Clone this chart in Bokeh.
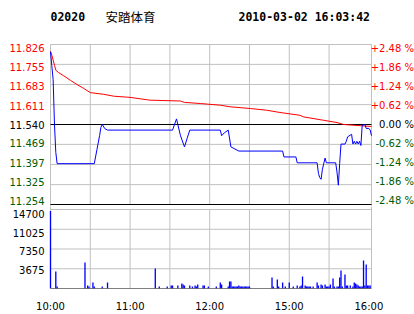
from bokeh.plotting import figure
from bokeh.models import FixedTicker, LinearAxis, Range1d
from bokeh.core.properties import value
from bokeh.layouts import column
from bokeh.embed import file_html
from bokeh.resources import INLINE

# ---------------- data ----------------
stock_code = "02020"
stock_name = "安踏体育"
stamp = "2010-03-02 16:03:42"
prev_close = 11.54

price_labels = ["11.826", "11.755", "11.683", "11.611", "11.540",
                "11.469", "11.397", "11.325", "11.254"]
pct_labels = ["+2.48 %", "+1.86 %", "+1.24 %", "+0.62 %", "0.00 %",
              "-0.62 %", "-1.24 %", "-1.86 %", "-2.48 %"]
vol_labels = ["14700", "11025", "7350", "3675"]
time_labels = ["10:00", "11:00", "12:00", "15:00", "16:00"]
time_ticks = [0, 60, 120, 180, 240]          # trading minutes since 10:00
half_hour_ticks = [30, 60, 90, 120, 150, 180, 210]
session_span = 242                           # minutes shown on the time axis

price_t = [0, 1, 2, 3, 4, 5, 33, 35, 37, 38, 39, 41, 43, 92, 95, 98, 101, 103, 105,
           128, 129, 131, 134, 136, 142, 175, 176, 185, 186, 201, 202, 203, 204, 205,
           207, 208, 215, 216, 217, 218, 219, 222, 223, 224, 227, 228, 229, 230, 231,
           232, 233, 234, 235, 237, 238, 240, 241, 242]
price_v = [11.80, 11.75, 11.70, 11.54, 11.44, 11.40, 11.40, 11.45, 11.50, 11.53, 11.54,
           11.525, 11.52, 11.52, 11.56, 11.50, 11.46, 11.49, 11.52,
           11.52, 11.50, 11.51, 11.52, 11.46, 11.445, 11.445, 11.424, 11.424, 11.403,
           11.403, 11.365, 11.35, 11.344, 11.38,
           11.42, 11.403, 11.403, 11.37, 11.323, 11.40, 11.47, 11.47, 11.48, 11.496,
           11.505, 11.47, 11.48, 11.47, 11.48,
           11.47, 11.48, 11.465, 11.537, 11.54, 11.526, 11.526, 11.52, 11.50]

avg_t = [0, 1, 3, 4, 6, 10, 15, 20, 25, 30, 40, 48, 60, 75, 98, 101, 113, 128, 136,
         151, 163, 173, 188, 191, 206, 216, 221, 236, 242]
avg_v = [11.802, 11.788, 11.752, 11.734, 11.726, 11.714, 11.698, 11.683, 11.669,
         11.654, 11.648, 11.641, 11.637, 11.627, 11.624, 11.619, 11.615, 11.609,
         11.603, 11.597, 11.591, 11.583, 11.573, 11.567, 11.555, 11.547, 11.540,
         11.535, 11.533]

vol_t = [0, 4, 5, 26, 28, 29, 32, 33, 39, 43,
         79, 82, 88, 91, 92, 96, 99, 100, 101, 105,
         107, 109, 110, 111, 115, 116, 119, 125, 128, 129,
         134, 135, 136, 137, 138, 139, 140, 141, 142, 143,
         144, 145, 146, 147, 148, 149, 150, 167, 168, 171,
         172, 175, 177, 180, 183, 186, 188, 189, 190, 192,
         193, 194, 195, 196, 198, 201, 202, 204, 205, 207,
         208, 209, 210, 211, 213, 214, 216, 217, 218, 219,
         220, 222, 223, 224, 226, 228, 229, 230, 231, 232,
         233, 234, 235, 236, 237, 238, 239, 240, 241]
vol_v = [14400, 3180, 370, 4860, 560, 370, 1120, 370, 370, 1120,
         3740, 370, 370, 560, 560, 560, 930, 750, 560, 560,
         370, 560, 370, 750, 560, 560, 370, 370, 1120, 750,
         370, 1300, 1300, 370, 370, 370, 370, 370, 560, 370,
         370, 370, 370, 370, 370, 370, 370, 2060, 370, 1680,
         370, 1120, 370, 1120, 370, 560, 370, 560, 2240, 560,
         370, 370, 370, 370, 370, 1120, 560, 750, 560, 750,
         370, 370, 370, 750, 1870, 370, 370, 370, 2060, 3360,
         370, 2620, 560, 560, 560, 370, 1120, 930, 750, 560,
         370, 370, 370, 5230, 560, 4480, 560, 560, 560]

# ---------------- layout / style constants ----------------
W = 414
LEFT, RIGHT = 50, 371                 # panel edges in px
H1, P_TOP, P_BOT = 206, 44, 204       # price figure height, panel top/bottom px
H2, V_TOP, V_BOT = 108, 3, 82         # volume figure height, panel top/bottom px (local)
RED, GREEN, BLUE, GRID = "#ff0000", "#005a00", "#0000ff", "#c0c0c0"
FONT, FSIZE = "DejaVu Sans", "10px"

price_ticks = [float(s) for s in price_labels]
vol_ticks = [float(s) for s in vol_labels]
p_lo, p_hi = min(price_ticks), max(price_ticks)
v_hi = max(vol_ticks)

# x range so that minute 0 sits at LEFT px and session_span at RIGHT px
mpp = session_span / (RIGHT - LEFT)
x_range = Range1d(-LEFT * mpp, session_span + (W - RIGHT) * mpp)

# price range: p_hi at P_TOP px, p_lo at P_BOT px
ppp = (p_hi - p_lo) / (P_BOT - P_TOP)
y1 = Range1d(p_lo - (H1 - P_BOT) * ppp, p_hi + P_TOP * ppp)

vpp = v_hi / (V_BOT - V_TOP)
y2 = Range1d(0, v_hi + V_TOP * vpp)


def level_color(v):
    if abs(v - prev_close) < 1e-6:
        return "#000000"
    return RED if v > prev_close else GREEN


colors = [level_color(v) for v in price_ticks]


def make_fig(h, yr, bottom):
    f = figure(width=W, height=h, title=None, x_range=x_range, y_range=yr,
               x_axis_location=None, y_axis_location=None, toolbar_location=None,
               output_backend="svg", min_border_left=0, min_border_right=0,
               min_border_top=0, min_border_bottom=bottom)
    for g in f.grid:
        g.visible = False
    f.outline_line_color = None
    f.background_fill_color = "white"
    f.border_fill_color = "white"
    return f


# ---------------- price panel ----------------
p1 = make_fig(H1, y1, 0)
n = len(price_ticks)
p1.segment(x0=half_hour_ticks, y0=[p_lo] * 7, x1=half_hour_ticks, y1=[p_hi] * 7,
           line_color=GRID, line_width=1)
p1.segment(x0=[0] * n, y0=price_ticks, x1=[session_span] * n, y1=price_ticks,
           line_color=GRID, line_width=1)
p1.segment(x0=[0, session_span], y0=[y1.start] * 2, x1=[0, session_span], y1=[p_hi] * 2,
           line_color=GRID, line_width=1)
p1.segment(x0=[0, 0], y0=[prev_close, p_lo], x1=[session_span] * 2, y1=[prev_close, p_lo],
           line_color="black", line_width=1)

p1.line(avg_t, avg_v, line_color=RED, line_width=1)
p1.line(price_t, price_v, line_color=BLUE, line_width=1)

label_y = [prev_close + (v - prev_close) * 0.952 for v in price_ticks]
p1.text(x=[0] * n, y=label_y, text=price_labels, text_color=colors, x_offset=-6,
        text_align="right", text_baseline="middle", text_font=value(FONT),
        text_font_size=FSIZE)
p1.text(x=[x_range.end] * n, y=label_y, text=pct_labels, text_color=colors,
        x_offset=-0.5, text_align="right", text_baseline="middle",
        text_font=value(FONT), text_font_size=FSIZE)

p1.text(x=[0], y=[p_hi], text=[stock_code], y_offset=-28, text_baseline="middle",
        text_font=value("DejaVu Sans Mono"), text_font_style="bold",
        text_font_size="11.5px", text_color="black")
p1.text(x=[0], y=[p_hi], text=[stock_name], x_offset=55, y_offset=-28,
        text_baseline="middle", text_font=value("Noto Sans CJK SC"),
        text_font_size="12.5px", text_color="black")
p1.text(x=[0], y=[p_hi], text=[stamp], x_offset=188, y_offset=-28,
        text_baseline="middle", text_font=value("DejaVu Sans Mono"),
        text_font_style="bold", text_font_size="11.5px", text_color="black")

# ---------------- volume panel ----------------
p2 = make_fig(H2, y2, H2 - V_BOT)
m = len(vol_ticks)
p2.segment(x0=half_hour_ticks, y0=[0] * 7, x1=half_hour_ticks, y1=[v_hi] * 7,
           line_color=GRID, line_width=1)
p2.segment(x0=[0] * m, y0=vol_ticks, x1=[session_span] * m, y1=vol_ticks,
           line_color=GRID, line_width=1)
p2.segment(x0=[0, session_span], y0=[0, 0], x1=[0, session_span], y1=[y2.end] * 2,
           line_color=GRID, line_width=1)

p2.vbar(x=vol_t, top=vol_v, width=1.0, fill_color=BLUE, line_color=None)

p2.segment(x0=[0], y0=[0], x1=[session_span], y1=[0], line_color="black", line_width=1)

p2.text(x=[0] * m, y=[v * 0.94 for v in vol_ticks], text=vol_labels, text_color="black",
        x_offset=-6, text_align="right", text_baseline="middle",
        text_font=value(FONT), text_font_size=FSIZE)

xaxis = LinearAxis(ticker=FixedTicker(ticks=time_ticks),
                   major_label_overrides={t: l for t, l in zip(time_ticks, time_labels)},
                   axis_line_color=None, major_tick_line_color=None,
                   minor_tick_line_color=None, major_label_standoff=6,
                   major_label_text_font=FONT, major_label_text_font_size=FSIZE,
                   major_label_text_color="black")
p2.add_layout(xaxis, "below")

layout = column(p1, p2, spacing=0)
open("out.html", "w").write(file_html(layout, INLINE))
